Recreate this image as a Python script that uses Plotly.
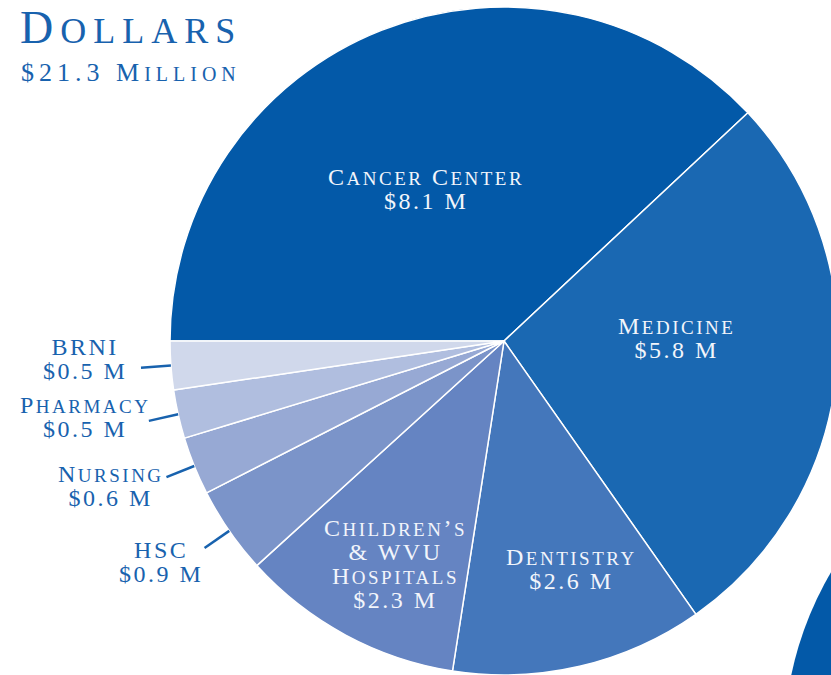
import math
import plotly.graph_objects as go

# ---- data ----
categories = ["Cancer Center", "Medicine", "Dentistry", "Children’s & WVU Hospitals",
              "HSC", "Nursing", "Pharmacy", "BRNI"]
display_lines = [["Cancer Center"], ["Medicine"], ["Dentistry"],
                 ["Children’s", "& WVU", "Hospitals"],
                 ["HSC"], ["Nursing"], ["Pharmacy"], ["BRNI"]]
values = [8.1, 5.8, 2.6, 2.3, 0.9, 0.6, 0.5, 0.5]   # $ millions
total_label = "$21.3 Million"
title_text = "Dollars"

# ---- styling ----
colors = ["#0359A8", "#1A68B2", "#4477BB", "#6584C2",
          "#7B94C9", "#97A9D4", "#B0BEDF", "#D0D8EB"]
text_blue = "#1862AE"
FONT = "Liberation Serif"
W, H = 840, 675
CX, CY, R = 504, 341, 334          # pie centre / radius in pixels
inside = [True, True, True, True, False, False, False, False]
inside_rfrac = [0.512, 0.518, 0.713, 0.743, None, None, None, None]
label_nudge_deg = [5.6, 6.9, 3.3, 2.5, 0, 0, 0, 0]
outside_xshift = [0, 0, 0, 0, 10, 11, 15, 0]
outside_yshift = [0, 0, 0, 0, -7, -4, 7, 10]


def small_caps(s, big, small, ls):
    """Render text in small caps with explicit sizes and letter spacing."""
    runs, cur, cur_small = [], "", None
    for ch in s:
        is_small = ch.islower()
        if cur and is_small != cur_small:
            runs.append((cur, cur_small))
            cur = ""
        cur += ch.upper() if is_small else ch
        cur_small = is_small
    if cur:
        runs.append((cur, cur_small))
    return "".join(
        f'<span style="font-size:{small if sm else big}px;letter-spacing:{ls}px">{t}</span>'
        for t, sm in runs)


def to_paper(px, py):
    return px / W, 1 - py / H


fig = go.Figure(go.Pie(
    labels=categories,
    values=values,
    sort=False,
    direction="clockwise",
    rotation=-90,
    marker=dict(colors=colors, line=dict(color="white", width=1.5)),
    textinfo="none",
    hoverinfo="label+value",
    domain=dict(x=[(CX - R) / W, (CX + R) / W], y=[0, 2 * R / H]),
    showlegend=False,
))

annotations = []
shapes = []
BIG, SMALL, LS = 24, 19, 2.5

tot = sum(values)
start = 180.0
for i, (lines, v) in enumerate(zip(display_lines, values)):
    span = v / tot * 360.0
    mid = math.radians(start - span / 2 + label_nudge_deg[i])
    start -= span
    txt = "<br>".join([small_caps(l, BIG, SMALL, LS) for l in lines] +
                      [small_caps(f"${v} M", BIG, SMALL, LS)])
    if inside[i]:
        r = R * inside_rfrac[i]
        x, y = to_paper(CX + r * math.cos(mid), CY - r * math.sin(mid))
        annotations.append(dict(x=x, y=y, xref="paper", yref="paper", text=txt,
                                showarrow=False, align="center",
                                xanchor="center", yanchor="middle",
                                font=dict(family=FONT, size=18.5, color="#F2F5FB")))
    else:
        x0, y0 = to_paper(CX + R * math.cos(mid), CY - R * math.sin(mid))
        x1, y1 = to_paper(CX + (R + 30) * math.cos(mid), CY - (R + 30) * math.sin(mid))
        shapes.append(dict(type="line", xref="paper", yref="paper",
                           x0=x0, y0=y0, x1=x1, y1=y1,
                           line=dict(color=text_blue, width=2.5)))
        xt, yt = to_paper(CX + (R + 42) * math.cos(mid), CY - (R + 42) * math.sin(mid))
        annotations.append(dict(x=xt, y=yt, xref="paper", yref="paper", text=txt,
                                showarrow=False, align="center",
                                xanchor="right", yanchor="middle",
                                xshift=outside_xshift[i], yshift=outside_yshift[i],
                                font=dict(family=FONT, size=18.5, color=text_blue)))

# neighbouring chart peeking in at the bottom right
nx0, ny0 = to_paper(1125 - 341, 745 - 341)
nx1, ny1 = to_paper(1125 + 341, 745 + 341)
shapes.append(dict(type="circle", xref="paper", yref="paper", layer="below",
                   x0=nx0, y0=ny1, x1=nx1, y1=ny0,
                   fillcolor=colors[0], line=dict(width=0)))

# title block
annotations.append(dict(x=18 / W, y=1 - 0 / H, xref="paper", yref="paper",
                        xanchor="left", yanchor="top",
                        text=small_caps(title_text, 46, 36, 7), showarrow=False,
                        font=dict(family=FONT, size=40, color=text_blue)))
annotations.append(dict(x=19 / W, y=1 - 56 / H, xref="paper", yref="paper",
                        xanchor="left", yanchor="top",
                        text=small_caps(total_label, 26, 20, 5), showarrow=False,
                        font=dict(family=FONT, size=22, color=text_blue)))

fig.update_layout(
    width=W, height=H,
    margin=dict(l=0, r=0, t=0, b=0),
    paper_bgcolor="white", plot_bgcolor="white",
    annotations=annotations, shapes=shapes,
)

fig.write_html("out.html", config={"displayModeBar": False}, post_script=(
    "document.body.style.margin='0';"
    "document.body.style.overflow='hidden';"
    "document.documentElement.style.overflow='hidden';"))
